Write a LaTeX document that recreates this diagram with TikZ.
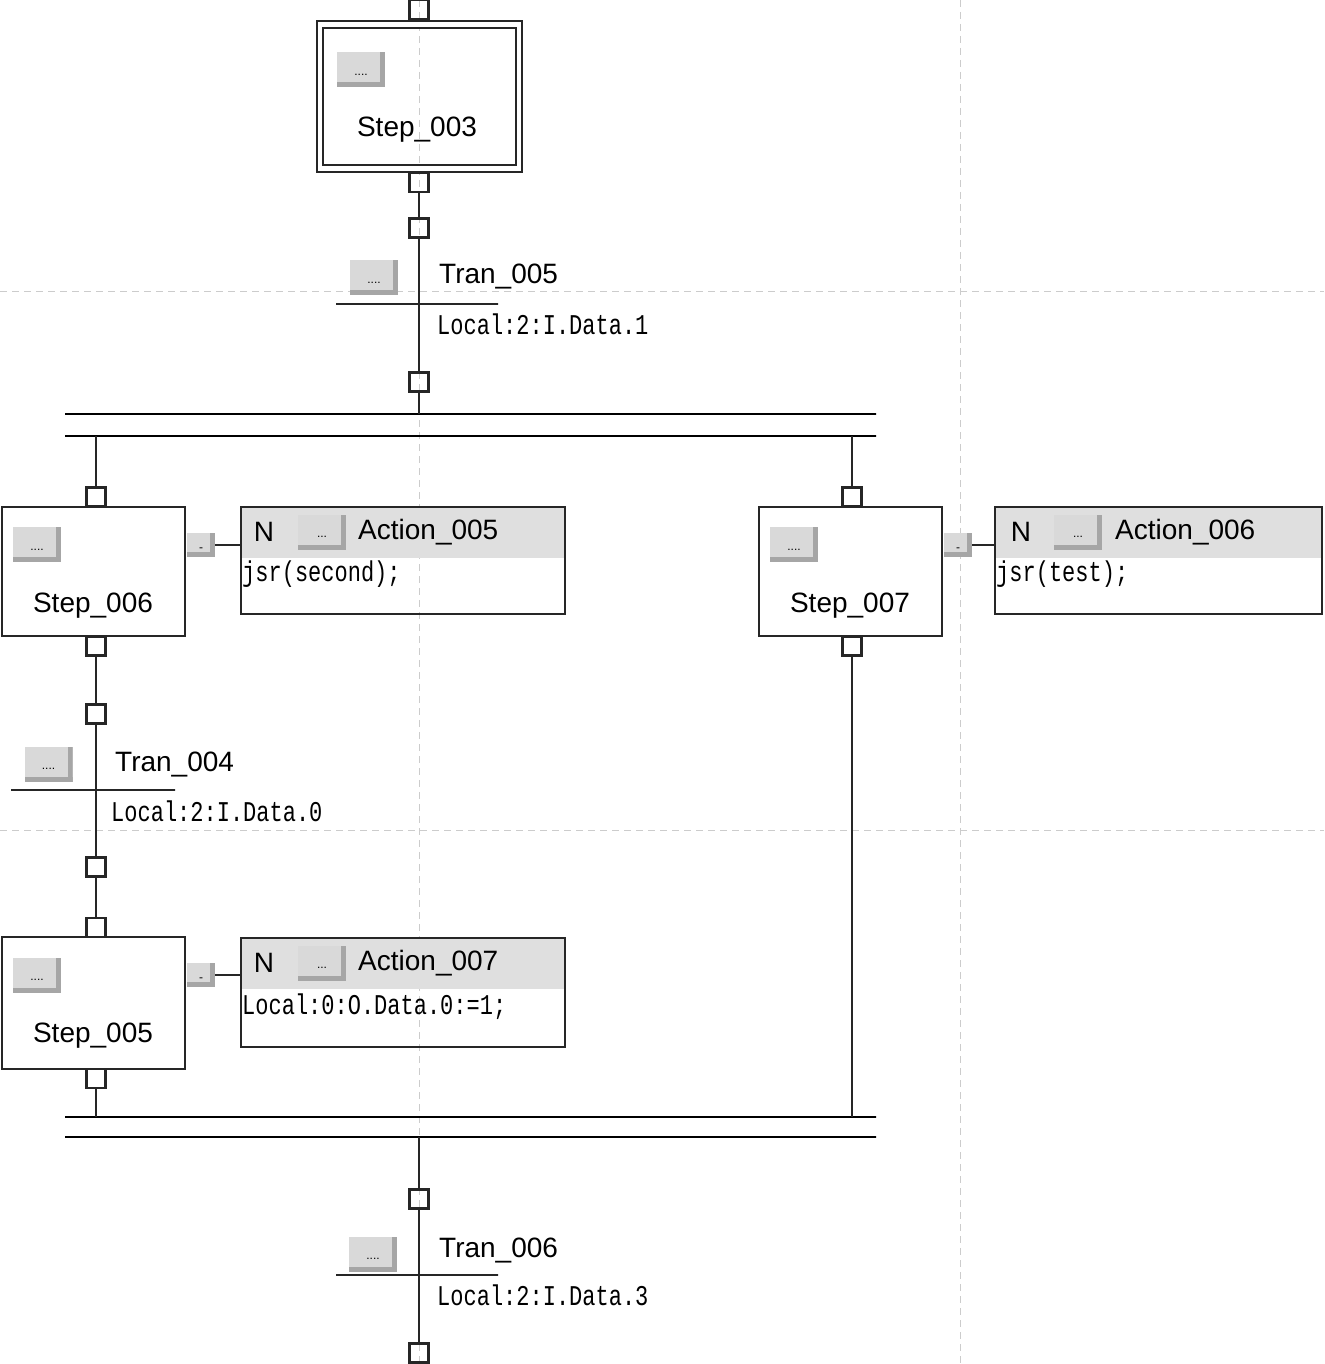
\documentclass[tikz,border=0pt]{standalone}
\usepackage{fontspec}
\setmainfont{Liberation Sans}
\newfontfamily\monof{Liberation Mono}
\usetikzlibrary{calc}
\newcommand{\mtxt}[1]{{\monof\fontsize{22}{26}\selectfont\scalebox{1}[1.3]{#1}}}
\begin{document}
\begin{tikzpicture}[x=1pt,y=-1pt,
  ln/.style={line width=2.4pt, draw=black!85},
  gridline/.style={draw=gray!40, line width=1pt, dash pattern=on 7pt off 5pt},
  stepbox/.style={draw=black!85, line width=2.4pt, minimum width=183pt, minimum height=129pt, inner sep=0pt},
  cbox/.style={draw=black!85, line width=2.2pt, minimum width=19pt, minimum height=19pt, inner sep=0pt},
  tbar/.style={draw=black!85, line width=2.4pt, minimum width=162pt, minimum height=0pt, inner sep=0pt},
  pbar/.style={draw=black, line width=2.6pt, minimum width=811pt, minimum height=0pt, inner sep=0pt},
  btn/.style={minimum width=48pt, minimum height=35pt, inner sep=0pt, fill=gray!30,
     path picture={
       \fill[gray!70] (path picture bounding box.south west) rectangle ([yshift=5pt]path picture bounding box.south east);
       \fill[gray!70] ([xshift=-5pt]path picture bounding box.south east) rectangle (path picture bounding box.north east);
       \node[font=\fontsize{12}{12}\selectfont, inner sep=0pt] at ([yshift=-5pt]path picture bounding box.center) {#1};}},
  btn/.default={....},
  mbtn/.style={btn={-}, minimum width=28pt, minimum height=24pt},
  lbl/.style={font=\fontsize{28}{32}\selectfont, inner sep=0pt},
  actbox/.style={draw=black!85, line width=2.4pt, minimum width=324pt, minimum height=107pt, inner sep=0pt,
     path picture={\fill[gray!25] (path picture bounding box.north west) rectangle ([yshift=-51pt]path picture bounding box.north east);}},
  mono/.style={inner sep=0pt, anchor=west}
]
\useasboundingbox (0,0) rectangle (1324,1364);
% grid
\draw[gridline] (419,0) -- (419,1364);
\draw[gridline] (960,0) -- (960,1364);
\draw[gridline] (0,291) -- (1324,291);
\draw[gridline] (0,830) -- (1324,830);

% Step_003
\node[stepbox, double, double distance=4.5pt, line width=2pt, minimum width=199pt, minimum height=144pt] (s3) at (419.5,96.5) {};
\node[btn] (s3b) at (361,69.5) {};
\node[lbl] (s3t) at (417,130) {Step\_003};
\node[cbox] (c0) at (419,9.5) {};
\node[cbox] (c1) at (419,182.5) {};
\node[cbox] (c2) at (419,228) {};
\draw[ln] (c1.south) -- (c2.north);

% Tran_005
\node[tbar] (t5) at (417,304) {};
\node[btn] (t5b) at (374,277.5) {};
\node[lbl, anchor=west] (t5n) at (439,277) {Tran\_005};
\node[mono] (t5c) at (437,324) {\mtxt{Local:2:I.Data.1}};
\node[cbox] (c3) at (419,382) {};
\draw[ln] (c2.south) -- (c3.north);

% divergence
\node[pbar] (p1) at (470.5,414) {};
\node[pbar] (p2) at (470.5,436) {};
\draw[ln] (c3.south) -- (c3.south |- p1.center);
\node[cbox] (c4) at (96,497) {};
\node[cbox] (c5) at (852,497) {};
\draw[ln] (c4.north |- p2.center) -- (c4.north);
\draw[ln] (c5.north |- p2.center) -- (c5.north);

% Step_006
\node[stepbox] (s6) at (93.5,571.5) {};
\node[btn] (s6b) at (37,544.5) {};
\node[lbl] (s6t) at (93,606) {Step\_006};
\node[mbtn] (m6) at (201,545) {};
\node[actbox] (a5) at (403,560.5) {};
\draw[ln] (m6.east) -- (m6.east -| a5.west);
\node[lbl] (a5n) at (264,532) {N};
\node[btn={...}] (a5b) at (322,532) {};
\node[lbl, anchor=west] (a5t) at (358,532) {Action\_005};
\node[mono] (a5c) at (242,574) {\mtxt{jsr(second);}};
\node[cbox] (c6) at (96,646) {};

% Step_007
\node[stepbox] (s7) at (850.5,571.5) {};
\node[btn] (s7b) at (794,544.5) {};
\node[lbl] (s7t) at (850,606) {Step\_007};
\node[mbtn] (m7) at (958,545) {};
\node[actbox, minimum width=327pt] (a6) at (1158.5,560.5) {};
\draw[ln] (m7.east) -- (m7.east -| a6.west);
\node[lbl] (a6n) at (1021,532) {N};
\node[btn={...}] (a6b) at (1078,532) {};
\node[lbl, anchor=west] (a6t) at (1115,532) {Action\_006};
\node[mono] (a6c) at (996,574) {\mtxt{jsr(test);}};
\node[cbox] (c7) at (852,646) {};

% Tran_004
\node[cbox] (c8) at (96,714) {};
\draw[ln] (c6.south) -- (c8.north);
\node[tbar, minimum width=164pt] (t4) at (93,790) {};
\node[btn] (t4b) at (48.5,764) {};
\node[lbl, anchor=west] (t4n) at (115,764) {Tran\_004};
\node[mono] (t4c) at (111,811) {\mtxt{Local:2:I.Data.0}};
\node[cbox] (c9) at (96,867) {};
\draw[ln] (c8.south) -- (c9.north);

% Step_005
\node[cbox] (c10) at (96,927.5) {};
\draw[ln] (c9.south) -- (c10.north);
\node[stepbox, minimum height=132pt] (s5) at (93.5,1003) {};
\node[btn] (s5b) at (37,975) {};
\node[lbl] (s5t) at (93,1036) {Step\_005};
\node[mbtn] (m5) at (201,975) {};
\node[actbox, minimum height=109pt] (a7) at (403,992.5) {};
\draw[ln] (m5.east) -- (m5.east -| a7.west);
\node[lbl] (a7n) at (264,963) {N};
\node[btn={...}] (a7b) at (322,963) {};
\node[lbl, anchor=west] (a7t) at (358,963) {Action\_007};
\node[mono] (a7c) at (242,1007) {\mtxt{Local:0:O.Data.0:=1;}};
\node[cbox] (c11) at (96,1078.5) {};

% convergence
\node[pbar] (p3) at (470.5,1117) {};
\node[pbar] (p4) at (470.5,1137) {};
\draw[ln] (c11.south) -- (c11.south |- p3.center);
\draw[ln] (c7.south) -- (c7.south |- p3.center);

% Tran_006
\node[cbox] (c12) at (419,1199) {};
\draw[ln] (c12.north |- p4.center) -- (c12.north);
\node[tbar] (t6) at (417,1275) {};
\node[btn] (t6b) at (373,1254) {};
\node[lbl, anchor=west] (t6n) at (439,1250) {Tran\_006};
\node[mono] (t6c) at (437,1295) {\mtxt{Local:2:I.Data.3}};
\node[cbox] (c13) at (419,1353) {};
\draw[ln] (c12.south) -- (c13.north);
\end{tikzpicture}
\end{document}
